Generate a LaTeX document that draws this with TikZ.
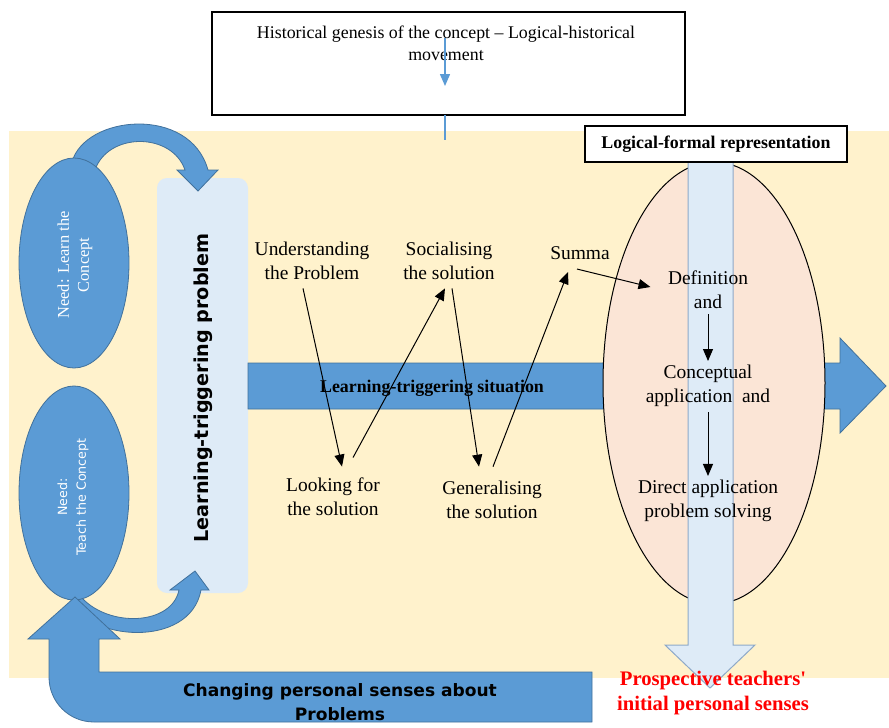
\documentclass[tikz,border=0pt]{standalone}
\usepackage{fontspec}
\setmainfont{Liberation Serif}
\setsansfont{DejaVu Sans}
\usetikzlibrary{arrows.meta}

\definecolor{sandbg}{HTML}{FFF2CC}
\definecolor{arrowblue}{HTML}{5B9BD5}
\definecolor{arrowedge}{HTML}{41719C}
\definecolor{paleblue}{HTML}{DEEBF7}
\definecolor{paleedge}{HTML}{8EA9C8}
\definecolor{palepink}{HTML}{FBE5D6}

\tikzset{every picture/.style={line width=0.75pt}}
\tikzset{
  bluearrow/.style={fill=arrowblue, draw=arrowedge, line width=0.6pt},
  thinblue/.style={draw=arrowblue, line width=1.1pt},
  stagetext/.style={font=\fontsize{14.6}{18}\selectfont, align=center, inner sep=0.75pt},
  stepline/.style={-{Triangle[length=9pt,width=7.5pt]}, line width=0.75pt},
  boxtitle/.style={font=\bfseries\fontsize{13.4}{16}\selectfont, inner sep=0.75pt}
}

\begin{document}
\begin{tikzpicture}[x=0.75pt,y=0.75pt,yscale=-1,xscale=1]
\useasboundingbox (0,0) rectangle (889,728);

%Shape: Rectangle (background)
\draw [draw=none, fill=sandbg] (9,131) -- (889,131) -- (889,678) -- (9,678) -- cycle ;

%Shape: Rectangle
\draw [line width=1.1pt, fill=white] (212,12) -- (685,12) -- (685,115) -- (212,115) -- cycle ;
% Text Node
\draw (446,43) node (genesis) [font=\fontsize{13.4}{16.5}\selectfont, align=center, inner sep=0.75pt] {Historical genesis of the concept -- Logical-historical\\movement};

%Straight Lines
\coordinate (genin) at (445,38);
\coordinate (genout) at (445,86);
\coordinate (boxfoot) at (445,115);
\coordinate (sandtop) at (445,140);
\draw [thinblue, -{Triangle[length=9pt,width=7.5pt]}] (genin) -- (genout) ;
\draw [thinblue] (boxfoot) -- (sandtop) ;

%Shape: Rounded Rectangle
\draw [draw=none, fill=paleblue, rounded corners=7.5pt] (157,178) rectangle (248,593) ;

%Curve Arrow (upper)
\draw [bluearrow] (72,162) .. controls (85,115) and (190,105) .. (208,170) -- (218,170) -- (198,191) -- (177,170) -- (185,170) .. controls (172,132) and (108,132) .. (95,170) -- cycle ;

%Curve Arrow (lower)
\draw [bluearrow] (72,600) .. controls (85,640) and (190,650) .. (201,590) -- (209,590) -- (195,571) -- (170,590) -- (179,590) .. controls (172,625) and (110,628) .. (82,598) -- cycle ;

%Shape: Ellipse
\draw [bluearrow] (74,263) ellipse [x radius=55, y radius=105] ;
%Shape: Ellipse
\draw [bluearrow] (74,493) ellipse [x radius=55, y radius=107] ;

%Shape: U Arrow
\draw [bluearrow] (592,672) -- (99,672) -- (99,639) -- (120,639) -- (75,597) -- (28,639) -- (49,639) -- (49,677) .. controls (49,702) and (69,722) .. (94,722) -- (592,722) -- cycle ;

%Shape: Right Arrow
\draw [bluearrow] (248,363) -- (840,363) -- (840,338) -- (886,386) -- (840,433) -- (840,409) -- (248,409) -- cycle ;

%Shape: Ellipse
\draw [fill=palepink] (714,383) ellipse [x radius=111, y radius=221] ;

%Shape: Down Arrow
\draw [fill=paleblue, draw=paleedge] (688,162) -- (733,162) -- (733,645) -- (755,645) -- (710,688) -- (665,645) -- (688,645) -- cycle ;

%Shape: Rectangle
\draw [line width=1.1pt, fill=white] (585,126) rectangle (847,162) ;
% Text Node
\draw (716,144) node (logicalformal) [boxtitle] {Logical-formal representation};

% Text Node
\draw (75,265) node (needlearn) [rotate=90, align=center, text=white, inner sep=0.75pt, font=\fontsize{12.3}{15}\selectfont] {Need: Learn the\\Concept};
% Text Node
\draw (73,497) node (needteach) [rotate=90, align=center, text=white, inner sep=0.75pt, font=\sffamily\fontsize{9.5}{14}\selectfont] {Need:\\Teach the Concept};
% Text Node
\draw (203,388) node (ltproblem) [rotate=90, inner sep=0.75pt, font=\sffamily\bfseries\fontsize{14.4}{17}\selectfont] {Learning-triggering problem};
% Text Node
\draw (432,388) node (ltsituation) [boxtitle] {Learning-triggering situation};

% Text Node
\draw (312,261) node (understand) [stagetext] {Understanding\\the Problem};
% Text Node
\draw (333,497) node (looking) [stagetext] {Looking for\\the solution};
% Text Node
\draw (449,261) node (socialise) [stagetext] {Socialising\\the solution};
% Text Node
\draw (492,500) node (generalise) [stagetext] {Generalising\\the solution};
% Text Node
\draw (580,253) node (summa) [stagetext] {Summa};

% Text Node
\draw (708,290) node (definition) [stagetext] {Definition\\and};
% Text Node
\draw (708,386) node (conceptual) [stagetext] {Conceptual\\application \ and};
% Text Node
\draw (708,501) node (direct) [stagetext] {Direct application\\problem solving};

% Text Node
\draw (713,693) node (prospective) [align=center, inner sep=0.75pt, text=red, font=\bfseries\fontsize{15.5}{18.75}\selectfont] {Prospective teachers\textquotesingle\\initial personal senses};
% Text Node
\draw (340,702) node (changing) [align=center, inner sep=0.75pt, font=\sffamily\bfseries\fontsize{12.8}{18}\selectfont] {Changing personal senses about\\Problems};

%Straight Lines (cycle of actions)
\draw [stepline] ([shift={(-9,7)}]understand.south) -- ([shift={(9,-10)}]looking.north) ;
\draw [stepline] ([shift={(20,-19)}]looking.north) -- ([shift={(-4,7)}]socialise.south) ;
\draw [stepline] ([shift={(3,7)}]socialise.south) -- ([shift={(-13,-13)}]generalise.north) ;
\draw [stepline] ([shift={(1,-13)}]generalise.north) -- ([shift={(-12,11)}]summa.south) ;
\draw [stepline] ([shift={(-3,8)}]summa.south) -- ([shift={(-16,-3)}]definition.west) ;
\draw [stepline] ([yshift=3]definition.south) -- ([yshift=-2]conceptual.north) ;
\draw [stepline] ([yshift=3]conceptual.south) -- ([yshift=-2]direct.north) ;
\end{tikzpicture}
\end{document}
